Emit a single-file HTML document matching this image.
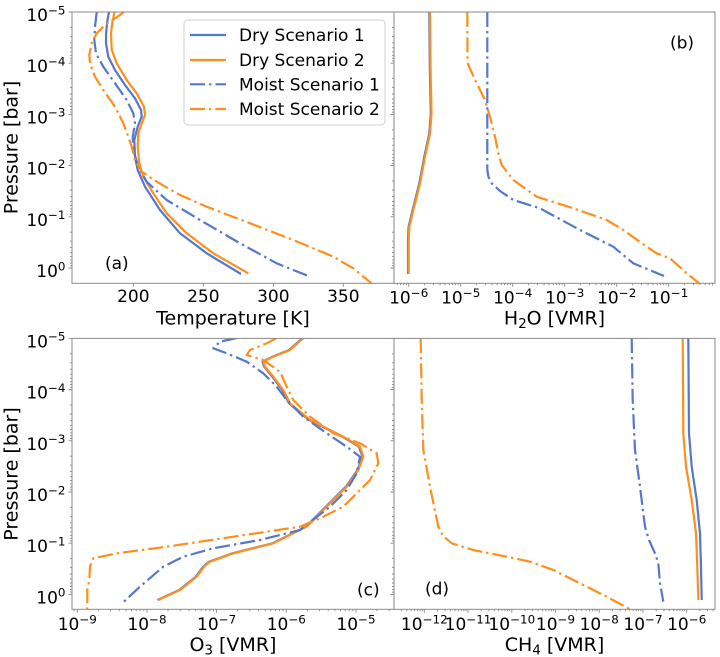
<!DOCTYPE html>
<html><head><meta charset="utf-8"><style>
html,body{margin:0;padding:0;background:#fff;}
svg{display:block;}
text{font-family:"DejaVu Sans","Liberation Sans",sans-serif;fill:#000;}
.tk{font-size:17px;}
.lb{font-size:19px;}
.sp{stroke:#8a8a8a;stroke-width:1;fill:none;}
.t{stroke:#8a8a8a;stroke-width:0.9;fill:none;}
.b{stroke:#5577cc;}
.o{stroke:#ff8f1a;}
.ln{fill:none;stroke-width:2.2;stroke-linejoin:round;stroke-linecap:butt;}
.dd{stroke-dasharray:15 4 2.4 4;}
</style></head><body>
<svg width="720" height="657" viewBox="0 0 720 657" xmlns="http://www.w3.org/2000/svg">
<defs>
<clipPath id="cA"><rect x="72" y="12" width="322" height="271.3"/></clipPath>
<clipPath id="cB"><rect x="394" y="12" width="321" height="271.3"/></clipPath>
<clipPath id="cC"><rect x="72" y="338.4" width="322" height="270.9"/></clipPath>
<clipPath id="cD"><rect x="394" y="338.4" width="321" height="270.9"/></clipPath>
<g id="yt">
<path class="t" d="M0 12h-3.5M0 63.2h-3.5M0 114.4h-3.5M0 165.6h-3.5M0 216.8h-3.5M0 268h-3.5"/>
<path class="t" stroke-width="0.7" d="M0 27.4h-2M0 36.4h-2M0 42.8h-2M0 47.8h-2M0 51.8h-2M0 55.3h-2M0 58.2h-2M0 60.9h-2M0 78.6h-2M0 87.6h-2M0 94h-2M0 99h-2M0 103h-2M0 106.5h-2M0 109.4h-2M0 112.1h-2M0 129.8h-2M0 138.8h-2M0 145.2h-2M0 150.2h-2M0 154.2h-2M0 157.7h-2M0 160.6h-2M0 163.3h-2M0 181h-2M0 190h-2M0 196.4h-2M0 201.4h-2M0 205.4h-2M0 208.9h-2M0 211.8h-2M0 214.5h-2M0 232.2h-2M0 241.2h-2M0 247.6h-2M0 252.6h-2M0 256.6h-2M0 260.1h-2M0 263h-2M0 265.7h-2"/>
</g>
</defs>
<rect width="720" height="657" fill="#fff"/>

<!-- ===== Panel (a) ===== -->
<g clip-path="url(#cA)">
<polyline class="ln b" points="109,12 107.5,20 106.7,26.7 106,35 106,43.3 108.3,56.7 115,70 125,85 135,98.3 141,110 141.7,116.7 139.5,122 137.7,126.7 134.3,140 135,156.7 137.7,170 145,186.7 160,210 180,233.3 206.7,253.3 241,274"/>
<polyline class="ln o" points="114.3,12 113.5,17 112.7,20 111,33 111.7,50 116.7,63.3 126.7,80 136.7,93.3 144,106.7 145,115 141.7,123.3 138.3,133.3 137.7,146.7 139.3,163.3 143.3,176.7 153.3,193.3 166.7,213.3 186.7,233.3 213.3,253.3 248.3,273.3"/>
<polyline class="ln b dd" points="96.7,12 95,26.7 94.3,40 96,53.3 103.3,66.7 115,83.3 126.7,100 133.3,113.3 135,123.3 132.7,136.7 133.3,150 138.3,166.7 146.7,181.7 166.7,200 200,220 240,243.3 276.7,263.3 310,276.7"/>
<polyline class="ln o dd" points="124,12 116.7,17.3 110,21.7 103.3,26.7 96.7,33.3 91.7,43.3 89.3,55 90,63.3 95,76.7 103.3,90 115,106.7 123.3,123.3 128.3,136.7 131.7,146.7 135,160 141.7,171.7 156.7,181.7 180,195 206.7,206.7 250,223.3 293.3,240 333.3,256.7 353.3,268.3 370.7,282.7 375,287"/>
</g>

<!-- ===== Panel (b) ===== -->
<g clip-path="url(#cB)">
<polyline class="ln b" points="429.3,12 429.8,66.7 430.8,113.3 429.3,133.3 424.3,156.7 419.3,183.3 412.6,210 408.6,226.7 408,240 408,274"/>
<polyline class="ln o" points="430,12 430.5,66.7 431.5,113.3 430,133.3 425,156.7 420,183.3 413.3,210 409.3,226.7 408.7,240 408.7,274"/>
<polyline class="ln b dd" points="487.3,12 487.3,170 488.5,177 491.7,183.3 500,191 513.3,200 540,208.3 580,230 613.3,246.7 633.3,263.3 664,276"/>
<polyline class="ln o dd" points="467.3,12 467.5,60 468.3,65 476.7,83.3 485,100 490,116.7 495,136.7 498.3,153.3 501.7,165 513.3,180 536.7,196.7 573.3,208.3 606.7,220 623.3,230 646.7,246.7 656.7,253.3 670,258.3 686.7,273.3 698.3,282.7 702,287"/>
</g>

<!-- ===== Panel (c) ===== -->
<g clip-path="url(#cC)">
<polyline class="ln b" points="302.5,338 289.2,350 272.5,356.7 262.5,361.7 264.2,366.7 272.3,376.7 282.3,390 289,403.3 309,420 342.3,436.7 359,446.7 362.5,456.7 357.5,470 345.9,486.7 329.2,503.3 305.9,526.7 272.5,543.3 232.5,553.3 209.2,561.7 203.2,566.7 195.9,576.7 179.2,590 157.5,600"/>
<polyline class="ln o" points="303.3,338 290,350 273.3,356.7 263.3,361.7 265,366.7 273.3,376.7 283.3,390 290,403.3 310,420 343.3,436.7 360,446.7 363.3,456.7 358.3,470 346.7,486.7 330,503.3 306.7,526.7 273.3,543.3 233.3,553.3 210,561.7 204,566.7 196.7,576.7 180,590 158.3,600"/>
<polyline class="ln b dd" points="236.7,338 220,341.7 213.3,348.3 226.7,353.3 246.7,361.7 263.3,373.3 276.7,386.7 286.7,400 303.3,416.7 326.7,433.3 346.7,446.7 360,456.7 356.7,473.3 346.7,490 330,506.7 300,530 260,540 213.3,548.3 183.3,556.7 163.3,566.7 140,586.7 123.3,602.3"/>
<polyline class="ln o dd" points="276.7,338 266.7,343.3 250,350 246.7,355 263.3,360 280,371.7 286.7,386.7 293.3,400 310,416.7 333.3,433.3 360,443.3 376.7,453.3 378.3,463.3 370,480 356.7,493.3 343.3,506.7 323.3,516.7 300,526.7 233.3,536.7 166.7,546.7 116.7,553.3 93.3,558.3 90,566.7 89.3,580 87.3,590 87.3,612"/>
</g>

<!-- ===== Panel (d) ===== -->
<g clip-path="url(#cD)">
<polyline class="ln b" points="688.3,338 689,433.3 691.7,466.7 696.7,500 700,533.3 701,566.7 701.7,600"/>
<polyline class="ln o" points="682.7,338 683.3,433.3 686,466.7 691.7,500 696,533.3 697.3,566.7 698.3,600"/>
<polyline class="ln b dd" points="631.7,338 632.7,400 635,450 640,486.7 645,526.7 649,540 655,553.3 658.3,563.3 660,583.3 663.3,601.7"/>
<polyline class="ln o dd" points="420.7,338 421.7,400 423.3,450 430,486.7 438.3,526.7 443,536 451.7,543.3 473.3,550 506.7,556.7 530,561.7 553.3,570 580,583.3 606.7,596.7 628.3,608.3 630,612"/>
</g>

<!-- frames -->
<rect class="sp" x="72" y="12" width="322" height="271.3"/>
<rect class="sp" x="394" y="12" width="321" height="271.3"/>
<rect class="sp" x="72" y="338.4" width="322" height="270.9"/>
<rect class="sp" x="394" y="338.4" width="321" height="270.9"/>

<!-- y ticks -->
<use href="#yt" x="72" y="0"/>
<use href="#yt" x="394" y="0"/>
<use href="#yt" x="72" y="326.4"/>
<use href="#yt" x="394" y="326.4"/>

<!-- x ticks (a) -->
<path class="t" d="M133.3 283.3v3.5M203.3 283.3v3.5M273.3 283.3v3.5M343.3 283.3v3.5"/>
<!-- x ticks (b) -->
<path class="t" d="M408.7 283.3v3.5M460.7 283.3v3.5M512.7 283.3v3.5M564.7 283.3v3.5M616.7 283.3v3.5M668.7 283.3v3.5"/>
<path class="t" stroke-width="0.7" d="M397.2 283.3v2M400.6 283.3v2M403.7 283.3v2M406.3 283.3v2M424.4 283.3v2M433.5 283.3v2M440 283.3v2M445 283.3v2M449.2 283.3v2M452.6 283.3v2M455.7 283.3v2M458.3 283.3v2M476.4 283.3v2M485.5 283.3v2M492 283.3v2M497 283.3v2M501.2 283.3v2M504.6 283.3v2M507.7 283.3v2M510.3 283.3v2M528.4 283.3v2M537.5 283.3v2M544 283.3v2M549 283.3v2M553.2 283.3v2M556.6 283.3v2M559.7 283.3v2M562.3 283.3v2M580.4 283.3v2M589.5 283.3v2M596 283.3v2M601 283.3v2M605.2 283.3v2M608.6 283.3v2M611.7 283.3v2M614.3 283.3v2M632.4 283.3v2M641.5 283.3v2M648 283.3v2M653 283.3v2M657.2 283.3v2M660.6 283.3v2M663.7 283.3v2M666.3 283.3v2M684.4 283.3v2M693.5 283.3v2M700 283.3v2M705 283.3v2M709.2 283.3v2M712.6 283.3v2"/>
<!-- x ticks (c) -->
<path class="t" d="M77.3 609.3v3.5M147 609.3v3.5M216.6 609.3v3.5M286.3 609.3v3.5M356 609.3v3.5"/>
<path class="t" stroke-width="0.7" d="M74.1 609.3v2M98.3 609.3v2M110.5 609.3v2M119.2 609.3v2M126 609.3v2M131.5 609.3v2M136.2 609.3v2M140.2 609.3v2M143.8 609.3v2M168 609.3v2M180.2 609.3v2M188.9 609.3v2M195.7 609.3v2M201.2 609.3v2M205.9 609.3v2M209.9 609.3v2M213.5 609.3v2M237.6 609.3v2M249.8 609.3v2M258.5 609.3v2M265.3 609.3v2M270.8 609.3v2M275.5 609.3v2M279.5 609.3v2M283.1 609.3v2M307.3 609.3v2M319.5 609.3v2M328.2 609.3v2M335 609.3v2M340.5 609.3v2M345.2 609.3v2M349.2 609.3v2M352.8 609.3v2M377 609.3v2M389.2 609.3v2"/>
<!-- x ticks (d) -->
<path class="t" d="M424.3 609.3v3.5M468 609.3v3.5M511.8 609.3v3.5M555.5 609.3v3.5M599.2 609.3v3.5M643 609.3v3.5M686.7 609.3v3.5"/>
<path class="t" stroke-width="0.7" d="M401.4 609.3v2M406.9 609.3v2M411.1 609.3v2M414.6 609.3v2M417.5 609.3v2M420.1 609.3v2M422.3 609.3v2M437.5 609.3v2M445.2 609.3v2M450.6 609.3v2M454.9 609.3v2M458.3 609.3v2M461.3 609.3v2M463.8 609.3v2M466 609.3v2M481.2 609.3v2M488.9 609.3v2M494.3 609.3v2M498.6 609.3v2M502 609.3v2M505 609.3v2M507.5 609.3v2M509.7 609.3v2M525 609.3v2M532.7 609.3v2M538.1 609.3v2M542.4 609.3v2M545.8 609.3v2M548.8 609.3v2M551.3 609.3v2M553.5 609.3v2M568.7 609.3v2M576.4 609.3v2M581.8 609.3v2M586.1 609.3v2M589.5 609.3v2M592.5 609.3v2M595 609.3v2M597.2 609.3v2M612.4 609.3v2M620.1 609.3v2M625.5 609.3v2M629.8 609.3v2M633.2 609.3v2M636.2 609.3v2M638.7 609.3v2M640.9 609.3v2M656.2 609.3v2M663.9 609.3v2M669.3 609.3v2M673.6 609.3v2M677 609.3v2M680 609.3v2M682.5 609.3v2M684.7 609.3v2M699.9 609.3v2M707.6 609.3v2M713 609.3v2"/>

<!-- y tick labels upper -->
<g class="tk" text-anchor="end">
<text x="65.5" y="21">10<tspan dy="-6.7" font-size="11.9">−5</tspan></text>
<text x="65.5" y="72.2">10<tspan dy="-6.7" font-size="11.9">−4</tspan></text>
<text x="65.5" y="123.4">10<tspan dy="-6.7" font-size="11.9">−3</tspan></text>
<text x="65.5" y="174.6">10<tspan dy="-6.7" font-size="11.9">−2</tspan></text>
<text x="65.5" y="225.8">10<tspan dy="-6.7" font-size="11.9">−1</tspan></text>
<text x="65.5" y="277">10<tspan dy="-6.7" font-size="11.9">0</tspan></text>
<text x="65.5" y="347.4">10<tspan dy="-6.7" font-size="11.9">−5</tspan></text>
<text x="65.5" y="398.6">10<tspan dy="-6.7" font-size="11.9">−4</tspan></text>
<text x="65.5" y="449.8">10<tspan dy="-6.7" font-size="11.9">−3</tspan></text>
<text x="65.5" y="501">10<tspan dy="-6.7" font-size="11.9">−2</tspan></text>
<text x="65.5" y="552.2">10<tspan dy="-6.7" font-size="11.9">−1</tspan></text>
<text x="65.5" y="603.4">10<tspan dy="-6.7" font-size="11.9">0</tspan></text>
</g>

<!-- x tick labels -->
<g class="tk" text-anchor="middle">
<text x="133.3" y="302">200</text>
<text x="203.3" y="302">250</text>
<text x="273.3" y="302">300</text>
<text x="343.3" y="302">350</text>

<text x="408.7" y="303.7">10<tspan dy="-6.7" font-size="11.9">−6</tspan></text>
<text x="460.7" y="303.7">10<tspan dy="-6.7" font-size="11.9">−5</tspan></text>
<text x="512.7" y="303.7">10<tspan dy="-6.7" font-size="11.9">−4</tspan></text>
<text x="564.7" y="303.7">10<tspan dy="-6.7" font-size="11.9">−3</tspan></text>
<text x="616.7" y="303.7">10<tspan dy="-6.7" font-size="11.9">−2</tspan></text>
<text x="668.7" y="303.7">10<tspan dy="-6.7" font-size="11.9">−1</tspan></text>

<text x="77.3" y="630">10<tspan dy="-6.7" font-size="11.9">−9</tspan></text>
<text x="147" y="630">10<tspan dy="-6.7" font-size="11.9">−8</tspan></text>
<text x="216.6" y="630">10<tspan dy="-6.7" font-size="11.9">−7</tspan></text>
<text x="286.3" y="630">10<tspan dy="-6.7" font-size="11.9">−6</tspan></text>
<text x="356" y="630">10<tspan dy="-6.7" font-size="11.9">−5</tspan></text>

<text x="424.3" y="630">10<tspan dy="-6.7" font-size="11.9">−12</tspan></text>
<text x="468" y="630">10<tspan dy="-6.7" font-size="11.9">−11</tspan></text>
<text x="511.8" y="630">10<tspan dy="-6.7" font-size="11.9">−10</tspan></text>
<text x="555.5" y="630">10<tspan dy="-6.7" font-size="11.9">−9</tspan></text>
<text x="599.2" y="630">10<tspan dy="-6.7" font-size="11.9">−8</tspan></text>
<text x="643" y="630">10<tspan dy="-6.7" font-size="11.9">−7</tspan></text>
<text x="686.7" y="630">10<tspan dy="-6.7" font-size="11.9">−6</tspan></text>
</g>

<!-- axis labels -->
<g class="lb" text-anchor="middle">
<text x="233" y="324.5">Temperature [K]</text>
<text x="554.5" y="324.5">H<tspan dy="3.5" font-size="13.3">2</tspan><tspan dy="-3.5">O [VMR]</tspan></text>
<text x="233" y="650.8">O<tspan dy="3.5" font-size="13.3">3</tspan><tspan dy="-3.5"> [VMR]</tspan></text>
<text x="554.5" y="650.8">CH<tspan dy="3.5" font-size="13.3">4</tspan><tspan dy="-3.5"> [VMR]</tspan></text>
<text transform="translate(17.5,147.5) rotate(-90)">Pressure [bar]</text>
<text transform="translate(17.5,474) rotate(-90)">Pressure [bar]</text>
</g>

<!-- panel labels -->
<g class="tk">
<text x="105" y="269">(a)</text>
<text x="670" y="48.5">(b)</text>
<text x="357" y="595.5">(c)</text>
<text x="425" y="594.5">(d)</text>
</g>

<!-- legend -->
<rect x="184" y="20" width="201" height="105" rx="4" ry="4" fill="#fff" fill-opacity="0.8" stroke="#d0d0d0" stroke-width="1"/>
<line class="ln b" x1="190" y1="35" x2="226" y2="35"/>
<line class="ln o" x1="190" y1="60" x2="226" y2="60"/>
<line class="ln b dd" x1="190" y1="84.3" x2="226" y2="84.3"/>
<line class="ln o dd" x1="190" y1="109" x2="226" y2="109"/>
<g class="tk">
<text x="239" y="41">Dry Scenario 1</text>
<text x="239" y="66">Dry Scenario 2</text>
<text x="239" y="90.3">Moist Scenario 1</text>
<text x="239" y="115">Moist Scenario 2</text>
</g>
</svg>
</body></html>
